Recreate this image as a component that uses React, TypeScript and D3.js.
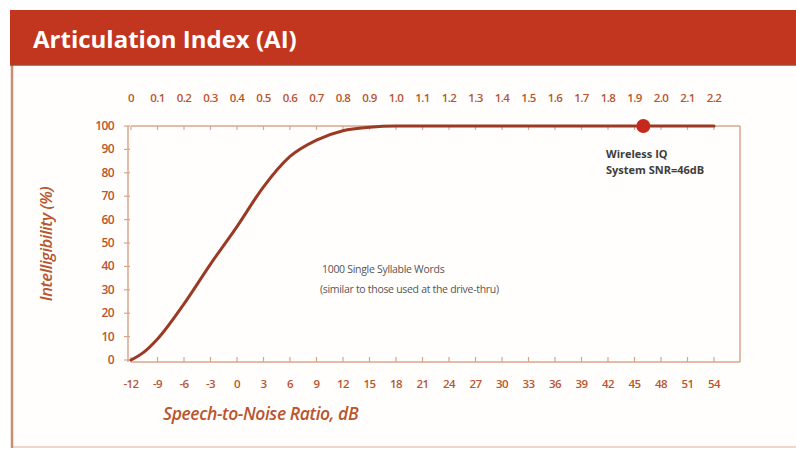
import * as d3 from 'd3';

// bottom axis: speech-to-noise ratio (dB)
const snrTicks = [-12, -9, -6, -3, 0, 3, 6, 9, 12, 15, 18, 21, 24, 27, 30, 33, 36, 39, 42, 45, 48, 51, 54];
// top axis: articulation index
const aiTicks = [0, 0.1, 0.2, 0.3, 0.4, 0.5, 0.6, 0.7, 0.8, 0.9, 1.0, 1.1, 1.2, 1.3, 1.4, 1.5, 1.6, 1.7, 1.8, 1.9, 2.0, 2.1, 2.2];
const yTicks = [0, 10, 20, 30, 40, 50, 60, 70, 80, 90, 100];

// curve
const curveSnr = [-12, -10.5, -9, -6, -3, 0, 3, 6, 9, 12, 15, 18, 21, 54];
const curveIntel = [0, 3.5, 9, 24, 41, 57, 74, 87, 94, 98, 99.5, 100, 100, 100];

const wirelessSnr = 46;
const wirelessIntel = 100;

const W = 796;
const H = 451;

const accent = '#b9552f';
const frameColor = '#d9a48e';
const curveColor = '#9a3a24';

export default function App() {
	const x = d3.scaleLinear().domain([-12, 54]).range([131, 714]);
	const xTop = d3.scaleLinear().domain([0, 2.2]).range([131, 714]);
	const y = d3.scaleLinear().domain([0, 100]).range([360, 126]);

	const pts: [number, number][] = curveSnr.map((s, i) => [s, curveIntel[i]]);
	const line = d3
		.line<[number, number]>()
		.x((d) => x(d[0]))
		.y((d) => y(d[1]))
		.curve(d3.curveMonotoneX);

	const frameRight = 740;
	const tickFont = {fontFamily: '"Open Sans", sans-serif', fontSize: 11.5, fontWeight: 600, fill: accent, letterSpacing: -0.6};

	return (
		<svg width={W} height={H} style={{position: 'absolute', left: 0, top: 0, background: '#fff'}}>
			{/* panel */}
			<rect x={12} y={64} width={W} height={383} fill="#fffefc" stroke="#efd6c8" strokeWidth={2} />
			<line x1={12} x2={12} y1={64} y2={448} stroke="#c98c74" strokeWidth={2.5} />
			<rect x={10} y={10} width={W - 10} height={55} fill="#c2351f" />
			<line x1={10} x2={W} y1={65} y2={65} stroke="#a8442c" strokeWidth={1.5} />
			<text x={33} y={48} fill="#fff" fontFamily='"Open Sans", sans-serif' fontWeight={700} fontSize={24}>
				Articulation Index (AI)
			</text>

			{/* frame */}
			<line x1={x(-12)} x2={frameRight} y1={y(100)} y2={y(100)} stroke={frameColor} strokeWidth={1.5} />
			<line x1={frameRight} x2={frameRight} y1={y(100)} y2={y(0) + 2} stroke={frameColor} strokeWidth={1.5} />
			<line x1={x(-12)} x2={frameRight} y1={y(0) + 2} y2={y(0) + 2} stroke={frameColor} strokeWidth={1.5} />
			<line x1={x(-12) - 3} x2={x(-12) - 3} y1={y(100)} y2={y(0) + 2} stroke={frameColor} strokeWidth={1.5} />

			{/* y ticks */}
			{yTicks.map((t) => (
				<g key={'y' + t}>
					<line x1={x(-12) - 7} x2={x(-12) - 1} y1={y(t)} y2={y(t)} stroke={frameColor} strokeWidth={1.2} />
					<text x={114} y={y(t) + 4} textAnchor="end" {...tickFont} fontSize={12}>
						{t}
					</text>
				</g>
			))}

			{/* bottom ticks */}
			{snrTicks.map((t) => (
				<g key={'b' + t}>
					<line x1={x(t)} x2={x(t)} y1={y(0) - 3} y2={y(0) + 2} stroke={frameColor} strokeWidth={1.2} />
					<text x={x(t)} y={388} textAnchor="middle" {...tickFont}>
						{t}
					</text>
				</g>
			))}

			{/* top ticks */}
			{aiTicks.map((t) => (
				<g key={'t' + t}>
					<line x1={xTop(t)} x2={xTop(t)} y1={y(100)} y2={y(100) + 4} stroke={frameColor} strokeWidth={1.2} />
					<text x={xTop(t)} y={102} textAnchor="middle" {...tickFont}>
						{t === 0 ? '0' : t.toFixed(1)}
					</text>
				</g>
			))}

			{/* curve */}
			<path d={line(pts) ?? ''} fill="none" stroke={curveColor} strokeWidth={3} strokeLinecap="round" />
			<circle cx={x(wirelessSnr)} cy={y(wirelessIntel)} r={7} fill="#c4291b" />

			{/* annotations */}
			<g fontFamily='"Open Sans", sans-serif' fontWeight={700} fontSize={11} fill="#3d3d3d">
				<text x={606} y={158}>Wireless IQ</text>
				<text x={606} y={174}>System SNR=46dB</text>
			</g>
			<g fontFamily='"Open Sans", sans-serif' fontSize={10.5} fill="#555" letterSpacing={-0.3}>
				<text x={322} y={273}>1000 Single Syllable Words</text>
				<text x={320} y={293}>(similar to those used at the drive-thru)</text>
			</g>

			{/* axis titles */}
			<text
				x={163}
				y={420}
				fill={accent}
				fontFamily='"Open Sans", sans-serif'
				fontStyle="italic"
				fontWeight={600}
				fontSize={17.5}
				letterSpacing={-0.4}
			>
				Speech-to-Noise Ratio, dB
			</text>
			<text
				transform="translate(52,244) rotate(-90)"
				textAnchor="middle"
				fill={accent}
				fontFamily='"Open Sans", sans-serif'
				fontStyle="italic"
				fontWeight={600}
				fontSize={16.5}
				letterSpacing={-0.4}
			>
				Intelligibility (%)
			</text>
		</svg>
	);
}
